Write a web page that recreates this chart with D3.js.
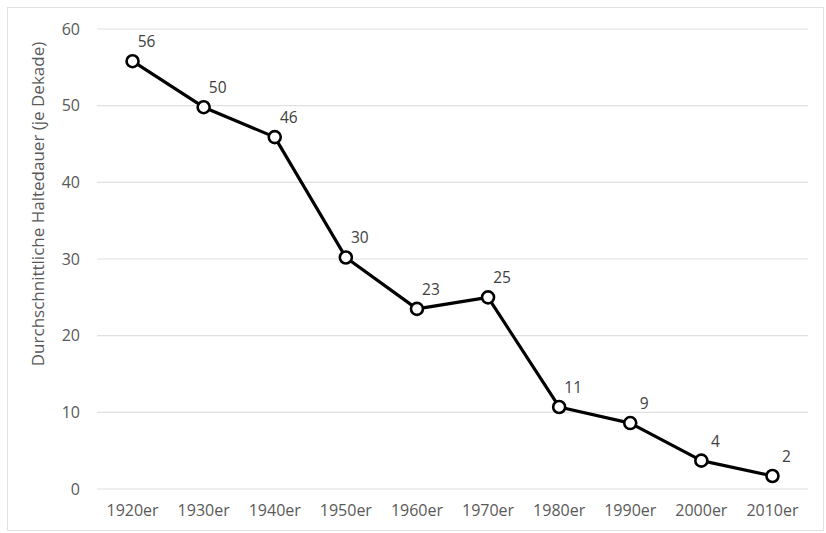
<!DOCTYPE html>
<html>
<head>
<meta charset="utf-8">
<script src="https://cdn.jsdelivr.net/npm/d3@7"></script>
<style>
  body { margin: 0; background: #fff; }
  text { font-family: "Open Sans", "Noto Sans", sans-serif; }
</style>
</head>
<body>
<div id="chart"></div>
<script>
var decades = ["1920er", "1930er", "1940er", "1950er", "1960er", "1970er", "1980er", "1990er", "2000er", "2010er"];
var values = [55.8, 49.8, 45.9, 30.2, 23.5, 25.0, 10.7, 8.6, 3.7, 1.7];
var labels = ["56", "50", "46", "30", "23", "25", "11", "9", "4", "2"];
var yTicks = [0, 10, 20, 30, 40, 50, 60];

var svgWidth = 826;
var svgHeight = 533;

var margin = { top: 29, right: 18, bottom: 44, left: 97 };
var chartWidth = svgWidth - margin.left - margin.right;
var chartHeight = svgHeight - margin.top - margin.bottom;

var svg = d3.select("#chart")
  .append("svg")
  .attr("width", svgWidth)
  .attr("height", svgHeight);

// outer frame
svg.append("rect")
  .attr("x", 7.5)
  .attr("y", 7.5)
  .attr("width", svgWidth - 10)
  .attr("height", svgHeight - 10)
  .attr("fill", "none")
  .attr("stroke", "#e2e2e2");

var chartGroup = svg.append("g")
  .attr("transform", `translate(${margin.left}, ${margin.top})`);

var xScale = d3.scaleBand()
  .domain(decades)
  .range([0, chartWidth]);

var yScale = d3.scaleLinear()
  .domain([0, 60])
  .range([chartHeight, 0]);

// gridlines
chartGroup.selectAll(".grid")
  .data(yTicks)
  .enter()
  .append("line")
  .attr("x1", 0)
  .attr("x2", chartWidth)
  .attr("y1", d => yScale(d))
  .attr("y2", d => yScale(d))
  .attr("stroke", "#e0e0e0")
  .attr("stroke-width", 1.2);

var leftAxis = d3.axisLeft(yScale).tickValues(yTicks).tickSize(0).tickPadding(17);
var yAxis = chartGroup.append("g").call(leftAxis);
yAxis.select(".domain").remove();
yAxis.selectAll("text")
  .attr("font-size", 16)
  .attr("fill", "#595959")
  .style("font-family", "'Open Sans', sans-serif");

var bottomAxis = d3.axisBottom(xScale).tickSize(0).tickPadding(16);
var xAxis = chartGroup.append("g")
  .attr("transform", `translate(0, ${chartHeight})`)
  .call(bottomAxis);
xAxis.select(".domain").remove();
xAxis.selectAll("text")
  .attr("font-size", 16)
  .attr("fill", "#595959")
  .style("font-family", "'Open Sans', sans-serif");

var cx = d => xScale(d) + xScale.bandwidth() / 2;

var line = d3.line()
  .x((d, i) => cx(decades[i]))
  .y(d => yScale(d));

chartGroup.append("path")
  .datum(values)
  .attr("d", line)
  .attr("fill", "none")
  .attr("stroke", "#000")
  .attr("stroke-width", 3.2)
  .attr("stroke-linejoin", "round");

chartGroup.selectAll(".pt")
  .data(values)
  .enter()
  .append("circle")
  .attr("cx", (d, i) => cx(decades[i]))
  .attr("cy", d => yScale(d))
  .attr("r", 6)
  .attr("fill", "#fff")
  .attr("stroke", "#000")
  .attr("stroke-width", 2.6);

chartGroup.selectAll(".lbl")
  .data(values)
  .enter()
  .append("text")
  .attr("x", (d, i) => cx(decades[i]) + 14)
  .attr("y", d => yScale(d) - 14)
  .attr("text-anchor", "middle")
  .attr("font-size", 15.5)
  .attr("fill", "#404040")
  .text((d, i) => labels[i]);

svg.append("text")
  .attr("transform", "rotate(-90)")
  .attr("x", -204)
  .attr("y", 44)
  .attr("text-anchor", "middle")
  .attr("font-size", 17)
  .attr("fill", "#595959")
  .text("Durchschnittliche Haltedauer (je Dekade)");
</script>
</body>
</html>
